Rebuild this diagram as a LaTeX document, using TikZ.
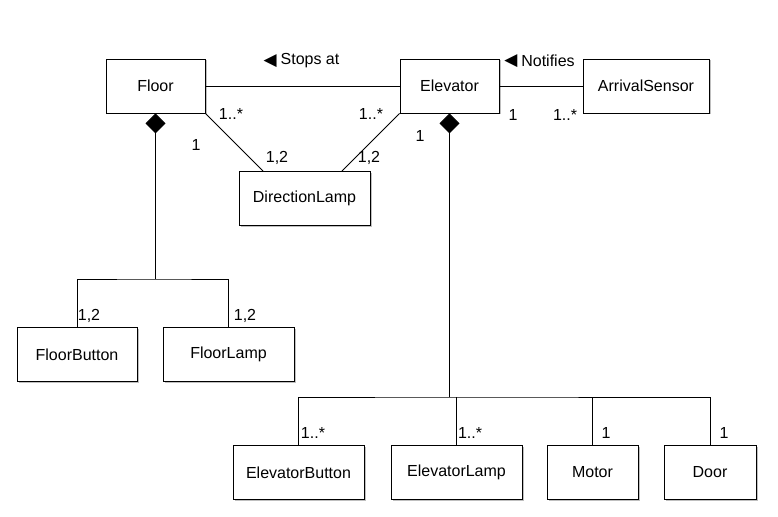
\documentclass[tikz,border=0pt]{standalone}
\usepackage{fontspec}
\setmainfont{Liberation Sans}
\newfontfamily\symfont{DejaVu Sans}
\usetikzlibrary{arrows.meta,shadows}

\tikzset{
    umlbox/.style={draw, thick, fill=white, minimum height=54pt, inner sep=0pt,
        drop shadow={shadow xshift=1.5pt, shadow yshift=-1.5pt, opacity=0.25, fill=black}},
    mult/.style={inner sep=0pt},
    owns/.style={{Diamond[length=20pt,width=20pt]}-},
}

\begin{document}
\begin{tikzpicture}[x=1pt, y=-1pt, font=\fontsize{16}{19}\selectfont, line width=0.9pt]
        % \draw[help lines] (0,0) grid (778, 516);
        \useasboundingbox (0,0) rectangle (778,516);

        \node[umlbox, minimum width=99pt]  (floor)     at (155.5, 86) {Floor};
        \node[umlbox, minimum width=99pt]  (elevator)  at (449.5, 86) {Elevator};
        \node[umlbox, minimum width=126pt] (sensor)    at (646, 86)   {ArrivalSensor};
        \node[umlbox, minimum width=131pt] (dirlamp)   at (304.5, 198.5) {DirectionLamp};

        \node[umlbox, minimum width=120pt] (flbutton)  at (77, 354.5)    {FloorButton};
        \node[umlbox, minimum width=131pt] (fllamp)    at (228.5, 354.5) {FloorLamp};

        \node[umlbox, minimum width=131pt] (elbutton)  at (298.5, 472.5) {ElevatorButton};
        \node[umlbox, minimum width=131pt] (ellamp)    at (456.5, 472.5) {ElevatorLamp};
        \node[umlbox, minimum width=91pt]  (motor)     at (592.5, 472.5) {Motor};
        \node[umlbox, minimum width=92pt]  (door)      at (710, 472.5)   {Door};

        % associations
        \draw (floor) -- (elevator);
        \draw (elevator) -- (sensor);
        \draw (floor.south east) -- ([xshift=-41.5pt]dirlamp.north);
        \draw (elevator.south west) -- ([xshift=37.5pt]dirlamp.north);

        \node[mult] (stops) at (310, 61) {Stops at};
        \node[mult, anchor=east, xshift=-3pt] (stopsarr) at (stops.west) {\symfont\fontsize{17}{18}\selectfont ◀};
        \node[mult] (notif) at (548, 61) {Notifies};
        \node[mult, anchor=east, xshift=-3pt] (notifarr) at (notif.west) {\symfont\fontsize{17}{18}\selectfont ◀};

        \node[mult] (m1) at (231, 114) {1..*};
        \node[mult] (m2) at (371, 114) {1..*};
        \node[mult] (m3) at (277, 158) {1,2};
        \node[mult] (m4) at (369, 158) {1,2};
        \node[mult] (m5) at (196, 145) {1};
        \node[mult] (m6) at (420, 136) {1};
        \node[mult] (m7) at (513, 115) {1};
        \node[mult] (m8) at (565, 115) {1..*};

        % floor composition
        \coordinate (fjoin) at (155.5, 279);
        \draw[owns] (floor.south) -- (fjoin);
        \draw (flbutton.north) |- (fjoin) -| (fllamp.north);
        \node[mult] (m9)  at (89, 316)  {1,2};
        \node[mult] (m10) at (245, 316) {1,2};

        % elevator composition
        \coordinate (ejoin) at (449.5, 397);
        \draw[owns] (elevator.south) -- (ejoin);
        \draw (elbutton.north) |- (ejoin) -| (door.north);
        \draw (ellamp.north) -- (ellamp.north |- ejoin);
        \draw (motor.north) -- (motor.north |- ejoin);
        \node[mult] (m11) at (313, 433) {1..*};
        \node[mult] (m12) at (470, 433) {1..*};
        \node[mult] (m13) at (606, 433) {1};
        \node[mult] (m14) at (724, 433) {1};

    \end{tikzpicture}
\end{document}
